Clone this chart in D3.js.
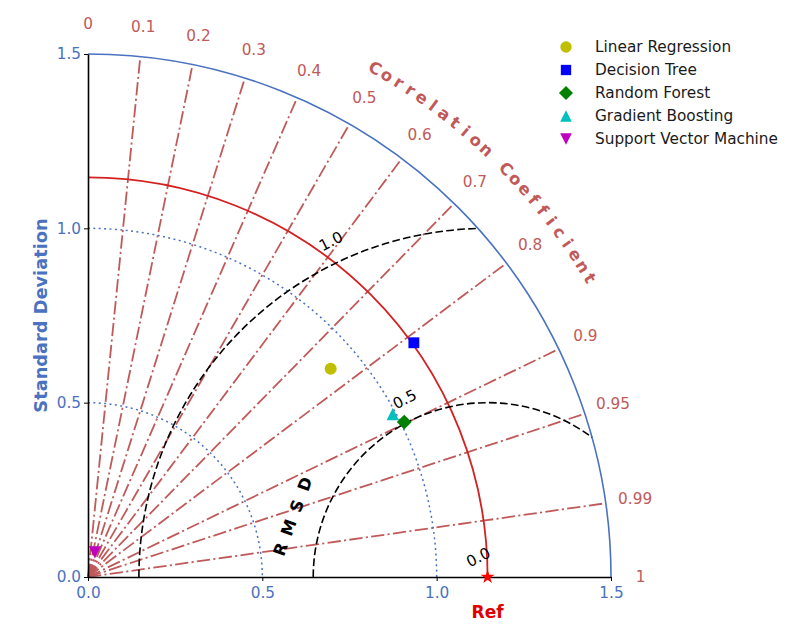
<!DOCTYPE html>
<html>
<head>
<meta charset="utf-8">
<script src="https://cdn.jsdelivr.net/npm/d3@7"></script>
<style>
  body { margin: 0; background: #fff; }
  svg text { font-family: "DejaVu Sans", sans-serif; }
</style>
</head>
<body>
<svg id="chart" width="800" height="640"></svg>
<script>
// ---------------- data ----------------
var models = ["Linear Regression", "Decision Tree", "Random Forest", "Gradient Boosting", "Support Vector Machine"];
var stdDevs = [0.917, 1.151, 1.010, 0.991, 0.073];
var correlations = [0.759, 0.812, 0.898, 0.882, 0.27];
var refStd = 1.146;

var corrTicks = [0, 0.1, 0.2, 0.3, 0.4, 0.5, 0.6, 0.7, 0.8, 0.9, 0.95, 0.99, 1];
var corrTickLabels = ["0", "0.1", "0.2", "0.3", "0.4", "0.5", "0.6", "0.7", "0.8", "0.9", "0.95", "0.99", "1"];
var stdTicks = [0, 0.5, 1.0, 1.5];
var stdGrid = [0.5, 1.0];
var rmsLevels = [0.0, 0.5, 1.0];
var rmsLabels = ["0.0", "0.5", "1.0"];

// ---------------- styles ----------------
var corrColor = "#c05a5a";
var blue = "#4a72c0";
var red = "#d42020";
var markerColors = ["#bfbf00", "#0000ff", "#008000", "#00bfbf", "#bf00bf"];
var smax = 1.5;
var fs = 15.3;

var svg = d3.select("#chart");

var x = d3.scaleLinear().domain([0, smax]).range([88, 611]);
var y = d3.scaleLinear().domain([0, smax]).range([577, 54]);
var px = function (v) { return x(v) - x(0); }; // data length -> pixels

function polar(s, theta) { return [x(s * Math.cos(theta)), y(s * Math.sin(theta))]; }

// ---------------- correlation lines ----------------
// 0 and 1 sit on the axes, so only the inner ones get a line
svg.append("g").selectAll("line")
  .data(corrTicks.filter(function (d) { return d > 0 && d < 1; }))
  .enter()
  .append("line")
  .attr("x1", x(0)).attr("y1", y(0))
  .attr("x2", function (d) { return polar(smax, Math.acos(d))[0]; })
  .attr("y2", function (d) { return polar(smax, Math.acos(d))[1]; })
  .attr("stroke", corrColor)
  .attr("stroke-width", 1.8)
  .attr("stroke-dasharray", "13.3,3.3,2.1,3.3");

svg.append("g").selectAll("text")
  .data(corrTicks)
  .enter()
  .append("text")
  .attr("x", function (d) { return polar(1.585, Math.acos(d))[0]; })
  .attr("y", function (d) { return polar(1.585, Math.acos(d))[1]; })
  .attr("text-anchor", "middle")
  .attr("dominant-baseline", "central")
  .attr("font-size", fs)
  .attr("fill", corrColor)
  .text(function (d, i) { return corrTickLabels[i]; });

// curved axis title, one char at a time
var title = "Correlation Coefficient".split("");
var a0 = 60.56, a1 = 30.76;
svg.append("g").selectAll("text")
  .data(title)
  .enter()
  .append("text")
  .attr("transform", function (d, i) {
    var a = a0 + (a1 - a0) * i / (title.length - 1);
    var p = polar(1.675, a * Math.PI / 180);
    return "translate(" + p[0] + "," + p[1] + ") rotate(" + (90 - a) + ")";
  })
  .attr("text-anchor", "middle")
  .attr("dominant-baseline", "central")
  .attr("font-size", 16.5)
  .attr("font-weight", "bold")
  .attr("fill", corrColor)
  .text(function (d) { return d; });

// ---------------- std deviation arcs ----------------
function quarter(s) {
  var p = d3.path();
  p.arc(x(0), y(0), px(s), -Math.PI / 2, 0, false);
  return p.toString();
}

svg.append("g").selectAll("path")
  .data(stdGrid)
  .enter()
  .append("path")
  .attr("d", quarter)
  .attr("fill", "none")
  .attr("stroke", blue)
  .attr("stroke-width", 1.5)
  .attr("stroke-dasharray", "2,3.4");

svg.append("path")
  .attr("d", quarter(smax))
  .attr("fill", "none")
  .attr("stroke", blue)
  .attr("stroke-width", 1.6);

svg.append("path")
  .attr("d", quarter(refStd))
  .attr("fill", "none")
  .attr("stroke", red)
  .attr("stroke-width", 1.8);

// ---------------- RMSD contours ----------------
function rmsArc(rms) {
  var c = (smax * smax - refStd * refStd - rms * rms) / (2 * refStd * rms);
  var phiEnd = Math.acos(Math.max(-1, Math.min(1, c)));
  var p = d3.path();
  p.arc(x(refStd), y(0), px(rms), -Math.PI, -phiEnd, false);
  return p.toString();
}

svg.append("g").selectAll("path")
  .data(rmsLevels.filter(function (d) { return d > 0; }))
  .enter()
  .append("path")
  .attr("d", rmsArc)
  .attr("fill", "none")
  .attr("stroke", "#000")
  .attr("stroke-width", 1.6)
  .attr("stroke-dasharray", "7.7,3.3");

var labAng = 115 * Math.PI / 180;
svg.append("g").selectAll("text")
  .data(rmsLevels)
  .enter()
  .append("text")
  .attr("transform", function (d) {
    var rr = d + 0.062;
    var tx = x(refStd + rr * Math.cos(labAng)), ty = y(rr * Math.sin(labAng));
    return "translate(" + tx + "," + ty + ") rotate(-27)";
  })
  .attr("text-anchor", "middle")
  .attr("dominant-baseline", "central")
  .attr("font-size", fs)
  .attr("fill", "#000")
  .text(function (d, i) { return rmsLabels[i]; });

// "RMSD" letters along a slanted line
var rmsdChars = ["R", "M", "S", "D"];
var rmsdStart = [0.553, 0.079], rmsdEnd = [0.623, 0.266];
svg.append("g").selectAll("text")
  .data(rmsdChars)
  .enter()
  .append("text")
  .attr("transform", function (d, i) {
    var t = i / (rmsdChars.length - 1);
    var tx = x(rmsdStart[0] + (rmsdEnd[0] - rmsdStart[0]) * t);
    var ty = y(rmsdStart[1] + (rmsdEnd[1] - rmsdStart[1]) * t);
    return "translate(" + tx + "," + ty + ") rotate(-70)";
  })
  .attr("text-anchor", "middle")
  .attr("dominant-baseline", "central")
  .attr("font-size", 16.5)
  .attr("font-weight", "bold")
  .attr("fill", "#000")
  .text(function (d) { return d; });

// ---------------- axes ----------------
var fmt = d3.format(".1f");
var xAxis = svg.append("g")
  .attr("transform", "translate(0," + y(0) + ")")
  .call(d3.axisBottom(x).tickValues(stdTicks).tickFormat(fmt).tickSize(4).tickSizeOuter(0));
var yAxis = svg.append("g")
  .attr("transform", "translate(" + x(0) + ",0)")
  .call(d3.axisLeft(y).tickValues(stdTicks).tickFormat(fmt).tickSize(4).tickSizeOuter(0));

[xAxis, yAxis].forEach(function (g) {
  g.select(".domain").attr("stroke", "#000").attr("stroke-width", 1.6);
  g.selectAll(".tick line").attr("stroke", "#000");
  g.selectAll(".tick text").attr("fill", blue).attr("font-size", fs)
    .attr("font-family", "DejaVu Sans, sans-serif");
});
xAxis.selectAll(".tick text").attr("dy", "0.9em");

svg.append("text")
  .attr("transform", "translate(40," + y(0.75) + ") rotate(-90)")
  .attr("text-anchor", "middle")
  .attr("dominant-baseline", "central")
  .attr("font-size", 17.8)
  .attr("font-weight", "bold")
  .attr("fill", blue)
  .text("Standard Deviation");

svg.append("text")
  .attr("x", x(refStd))
  .attr("y", 612)
  .attr("text-anchor", "middle")
  .attr("dominant-baseline", "central")
  .attr("font-size", 17)
  .attr("font-weight", "bold")
  .attr("fill", "#e00000")
  .text("Ref");

// ---------------- markers ----------------
var triUp = {
  draw: function (ctx, size) {
    var h = Math.sqrt(size) / 2;
    ctx.moveTo(0, -h); ctx.lineTo(h, h); ctx.lineTo(-h, h); ctx.closePath();
  }
};
var triDown = {
  draw: function (ctx, size) {
    var h = Math.sqrt(size) / 2;
    ctx.moveTo(0, h); ctx.lineTo(h, -h); ctx.lineTo(-h, -h); ctx.closePath();
  }
};
var shapes = [d3.symbolCircle, d3.symbolSquare, d3.symbolSquare, triUp, triDown];
var sizes = [113, 118, 110, 150, 150];
var rotations = [0, 0, 45, 0, 0];

function markerPath(i, scale) {
  return d3.symbol().type(shapes[i]).size(sizes[i] * (scale || 1))();
}

svg.append("g").selectAll("path")
  .data(models)
  .enter()
  .append("path")
  .attr("d", function (d, i) { return markerPath(i); })
  .attr("transform", function (d, i) {
    var p = polar(stdDevs[i], Math.acos(correlations[i]));
    return "translate(" + p[0] + "," + p[1] + ") rotate(" + rotations[i] + ")";
  })
  .attr("fill", function (d, i) { return markerColors[i]; });

svg.append("path")
  .attr("d", d3.symbol().type(d3.symbolStar).size(60)())
  .attr("transform", "translate(" + x(refStd) + "," + y(0) + ")")
  .attr("fill", "#ff0000");

// ---------------- legend ----------------
var legend = svg.append("g").selectAll("g")
  .data(models)
  .enter()
  .append("g")
  .attr("transform", function (d, i) { return "translate(566," + (47 + 23 * i) + ")"; });

legend.append("path")
  .attr("d", function (d, i) { return markerPath(i, 0.9); })
  .attr("transform", function (d, i) { return "rotate(" + rotations[i] + ")"; })
  .attr("fill", function (d, i) { return markerColors[i]; });

legend.append("text")
  .attr("x", 29)
  .attr("dominant-baseline", "central")
  .attr("font-size", fs)
  .attr("fill", "#1a1a1a")
  .text(function (d) { return d; });
</script>
</body>
</html>
